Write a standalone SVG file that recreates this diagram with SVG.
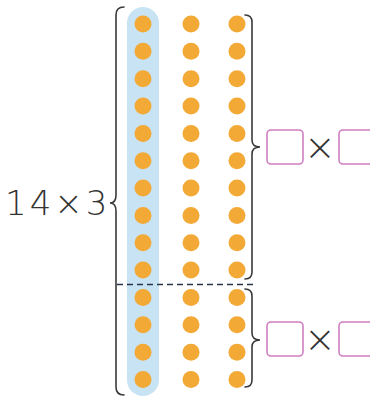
<svg xmlns="http://www.w3.org/2000/svg" width="370" height="398" viewBox="0 0 370 398">
<defs>
<style>
.dot{fill:#f3a935}
.brace{fill:none;stroke:#3a3a3a;stroke-width:1.6;stroke-linecap:round}
.box{fill:#fff;stroke:#d07fbf;stroke-width:1.6}
.txt{font-family:"DejaVu Sans","Liberation Sans",sans-serif;font-weight:200;fill:#333}
</style>
<circle id="d" class="dot" r="8.5"/>
<g id="row"><use href="#d" x="143"/><use href="#d" x="191"/><use href="#d" x="237"/></g>
</defs>
<rect width="370" height="398" fill="#fff"/>
<g id="band"><rect x="127" y="7" width="32" height="389" rx="16" fill="#c8e3f4"/></g>
<g id="dots">
<use href="#row" y="24"/><use href="#row" y="51.3"/><use href="#row" y="78.7"/><use href="#row" y="106"/>
<use href="#row" y="133.4"/><use href="#row" y="160.7"/><use href="#row" y="188.1"/><use href="#row" y="215.4"/>
<use href="#row" y="242.8"/><use href="#row" y="270.1"/><use href="#row" y="297.5"/><use href="#row" y="324.8"/>
<use href="#row" y="352.2"/><use href="#row" y="379.5"/>
</g>
<g id="connectors">
<path class="brace" d="M124,7 Q116,7 116,15 L116,195 Q116,203 110,203 Q116,203 116,211 L116,387 Q116,395 124,395"/>
<path class="brace" d="M245,15 Q252,15 252,22 L252,140 Q252,147 260,147 Q252,147 252,154 L252,272 Q252,279 245,279"/>
<path class="brace" d="M245,289 Q252,289 252,296 L252,333 Q252,340 260,340 Q252,340 252,347 L252,380 Q252,387 245,387"/>
<line x1="117" y1="284.5" x2="254" y2="284.5" stroke="#2a3448" stroke-width="1.6" stroke-dasharray="6,4"/>
</g>
<g id="label">
<text class="txt" x="5" y="215" font-size="34" letter-spacing="3">14×3</text>
</g>
<g id="top-expr">
<rect class="box" x="267" y="130" width="36" height="34" rx="4"/>
<text class="txt" x="320" y="160" font-size="38" text-anchor="middle">×</text>
<rect class="box" x="339" y="130" width="36" height="34" rx="4"/>
</g>
<g id="bottom-expr">
<rect class="box" x="267" y="322" width="36" height="34" rx="4"/>
<text class="txt" x="320" y="352" font-size="38" text-anchor="middle">×</text>
<rect class="box" x="339" y="322" width="36" height="34" rx="4"/>
</g>
</svg>
